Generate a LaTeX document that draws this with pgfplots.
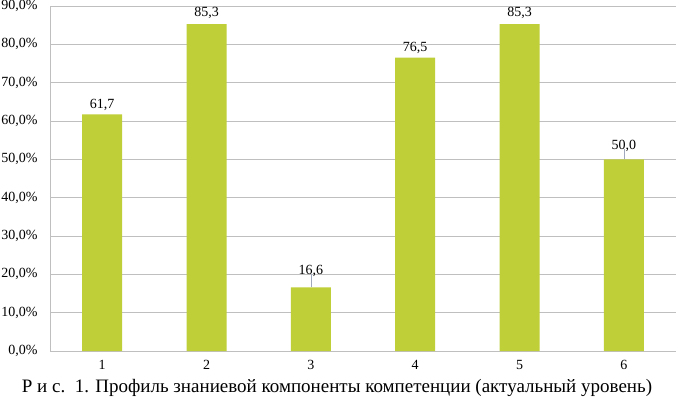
\documentclass[border=0pt]{standalone}
\usepackage{pgfplots}
\usepackage{pgfplotstable}
\pgfplotsset{compat=1.18}
\usepackage{fontspec}
\setmainfont{Liberation Serif}
\definecolor{barc}{RGB}{191,207,56}
\definecolor{gridc}{RGB}{191,191,191}
\definecolor{leadc}{RGB}{160,168,190}

% x, value, extra label lift
\pgfplotstableread{
x y off
1 61.7 0
2 85.3 2
3 16.6 7
4 76.5 1
5 85.3 2
6 50.0 4
}\datatable

\begin{document}
\begin{tikzpicture}
\begin{axis}[
  at={(50pt,56pt)}, anchor=south west,
  scale only axis, width=626pt, height=345pt,
  xmin=0.5, xmax=6.5, ymin=0, ymax=90,
  xtick={1,...,6}, ytick={0,10,...,90},
  axis x line*=bottom, axis y line*=left,
  axis line style={gridc, -, line width=0.8pt},
  major tick length=0pt,
  ymajorgrids, grid style={gridc, line width=0.8pt},
  tick label style={font=\fontsize{14}{16}\selectfont, black},
  /pgf/number format/assume math mode=true,
  yticklabel={\pgfmathprintnumber[fixed,fixed zerofill,precision=1,use comma]{\tick}\%},
  yticklabel style={xshift=-9pt},
  xticklabel style={yshift=-6pt},
  clip=false,
]
\addplot[ybar, bar width=40pt, bar shift=0pt, fill=barc, draw=none,
  visualization depends on=\thisrow{off}\as\myoff,
  nodes near coords={\pgfmathprintnumber[fixed,fixed zerofill,precision=1,use comma]{\pgfplotspointmeta}},
  every node near coord/.append style={anchor=south, yshift=\myoff pt, font=\fontsize{14}{16}\selectfont, black},
] table[x=x, y=y] {\datatable};
\addplot[draw=none, mark=none, forget plot,
  error bars/.cd, y dir=plus, y explicit, error mark=none,
  error bar style={leadc, line width=0.6pt}]
  coordinates {(3,16.6) +- (0,3.4) (6,50.0) +- (0,2.6)};
\end{axis}
\node[font=\fontsize{19}{22}\selectfont] at (337pt,19pt)
  {Р и с.\ \ 1. Профиль знаниевой компоненты компетенции (актуальный уровень)};
\pgfresetboundingbox
\path (0,0) rectangle (676pt,407pt);
\end{tikzpicture}
\end{document}
